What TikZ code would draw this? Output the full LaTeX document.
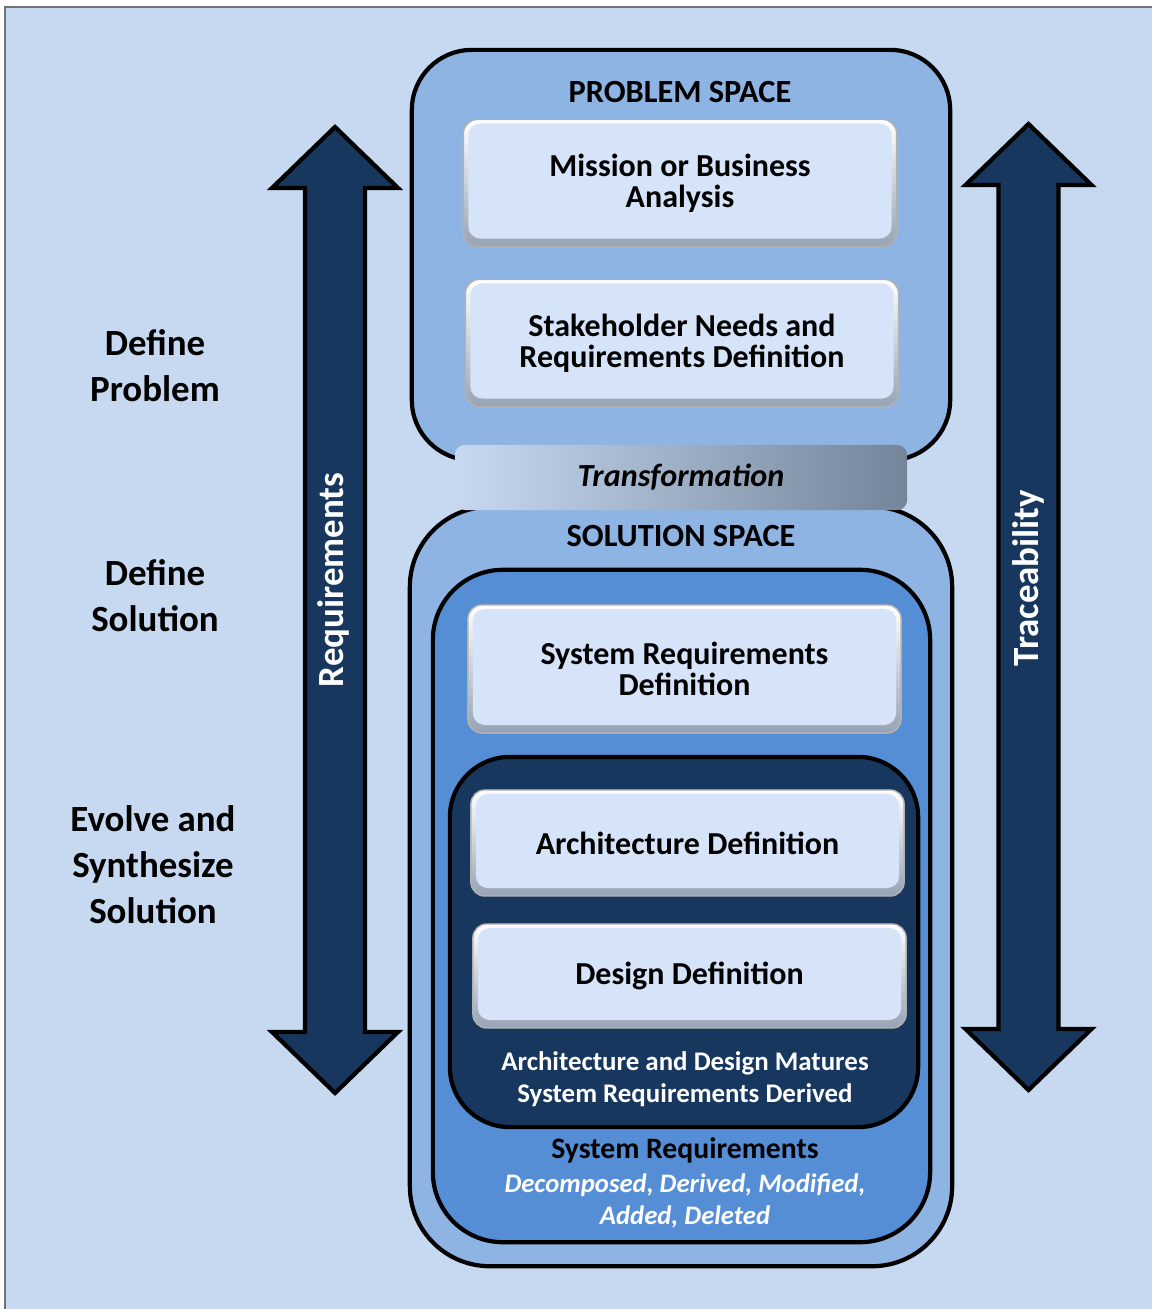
\documentclass[tikz,border=0pt]{standalone}
\usepackage{fontspec}
\setmainfont{Carlito}
\usetikzlibrary{calc,positioning}
\definecolor{bgBlue}{HTML}{C6D9F0}
\definecolor{spaceBlue}{HTML}{8EB4E3}
\definecolor{midBlue}{HTML}{558ED5}
\definecolor{navyBlue}{HTML}{17375E}
\definecolor{boxFill}{HTML}{D6E4FA}
\definecolor{rimGray}{HTML}{97A3B4}
\definecolor{transGray}{HTML}{74859A}
\definecolor{frameGray}{HTML}{6E7378}
\newcommand{\stageFont}{\fontsize{10.5}{13.1}\selectfont\bfseries}
\newcommand{\boxFont}{\fontsize{9.1}{8.9}\selectfont\bfseries}
\newcommand{\spaceFont}{\fontsize{9.2}{10}\selectfont\bfseries}
\newcommand{\smallFont}{\fontsize{7.65}{9.2}\selectfont\bfseries}
\tikzset{
	space box/.style={draw=black, line width=1.2pt, rounded corners=#1, inner sep=0pt},
	def box/.style={rounded corners=0.14cm, draw=black!30, line width=0.4pt,
			top color=white, bottom color=rimGray, inner sep=0pt,
			minimum width=4.33cm, align=center, font=\boxFont,
			path picture={\fill[boxFill, rounded corners=0.12cm]
				($(path picture bounding box.south west)+(0.05cm,0.08cm)$) rectangle
				($(path picture bounding box.north east)+(-0.05cm,-0.04cm)$);}},
	stage label/.style={font=\stageFont, align=center, text=black},
	arrow label/.style={font=\stageFont, text=white, rotate=90},
}

\begin{document}
\begin{tikzpicture}[x=0.01cm, y=-0.01cm]
	\useasboundingbox (0,0) rectangle (1152,1309);
	\clip (0,0) rectangle (1152,1309);
	\fill[bgBlue, draw=frameGray, line width=0.6pt] (5,7) rectangle (1180,1340);

	% requirements / traceability arrows
	\foreach \ax/\at/\ab in {335/127/1093, 1028.5/124/1090}{
		\draw[fill=navyBlue, line width=1.2pt, line join=miter]
			(\ax,\at) -- (\ax+63,\at+61) -- (\ax+30,\at+61) -- (\ax+30,\ab-61)
			-- (\ax+63,\ab-61) -- (\ax,\ab) -- (\ax-63,\ab-61) -- (\ax-30,\ab-61)
			-- (\ax-30,\at+61) -- (\ax-63,\at+61) -- cycle;
	}
	\node[arrow label] at (333,580) (req) {Requirements};
	\node[arrow label] at (1028,578) (trace) {Traceability};

	\node[stage label] at (155,366) (defprob) {Define\\Problem};
	\node[stage label] at (155,596) (defsol) {Define\\Solution};
	\node[stage label] at (153,865) (evolve) {Evolve and\\Synthesize\\Solution};

	% problem space
	\node[space box=0.6cm, fill=spaceBlue, minimum width=5.38cm, minimum height=4.1cm] at (681,255) (problem) {};
	\node[font=\spaceFont] at (680,92) (problabel) {PROBLEM SPACE};
	\node[def box, minimum height=1.27cm] at (680,183) (mission) {Mission or Business\\Analysis};
	\node[def box, minimum height=1.27cm] at (682,343) (stake) {Stakeholder Needs and\\Requirements Definition};

	% solution space
	\node[space box=0.8cm, fill=spaceBlue, minimum width=5.42cm, minimum height=7.59cm] at (681,886.5) (solution) {};
	\node[font=\spaceFont] at (681,536) (sollabel) {SOLUTION SPACE};
	\node[space box=0.7cm, fill=midBlue, minimum width=4.97cm, minimum height=6.72cm] at (681.5,906) (sysspace) {};
	\node[def box, minimum height=1.28cm] at (684.5,669) (sysreq) {System Requirements\\Definition};
	\node[space box=0.6cm, fill=navyBlue, minimum width=4.68cm, minimum height=3.7cm] at (684,942) (archspace) {};
	\node[def box, minimum height=1.06cm] at (687.5,843) (arch) {Architecture Definition};
	\node[def box, minimum height=1.04cm] at (689.5,976) (design) {Design Definition};
	\node[font=\smallFont, text=white, align=center] at (685,1079) (matures) {Architecture and Design Matures\\System Requirements Derived};
	\node[font=\fontsize{8.45}{9}\selectfont\bfseries] at (685,1150) (sysreqs) {System Requirements};
	\node[font=\fontsize{7.6}{9.2}\selectfont\bfseries\itshape, text=white, align=center] at (685,1201) (changes) {Decomposed, Derived, Modified,\\Added, Deleted};

	% transformation bar
	\node[rounded corners=0.1cm, left color=bgBlue, right color=transGray, minimum width=4.52cm,
		minimum height=0.65cm, font=\fontsize{9.15}{10}\selectfont\bfseries\itshape] at (681,477.5) (transform) {Transformation};
\end{tikzpicture}
\end{document}
